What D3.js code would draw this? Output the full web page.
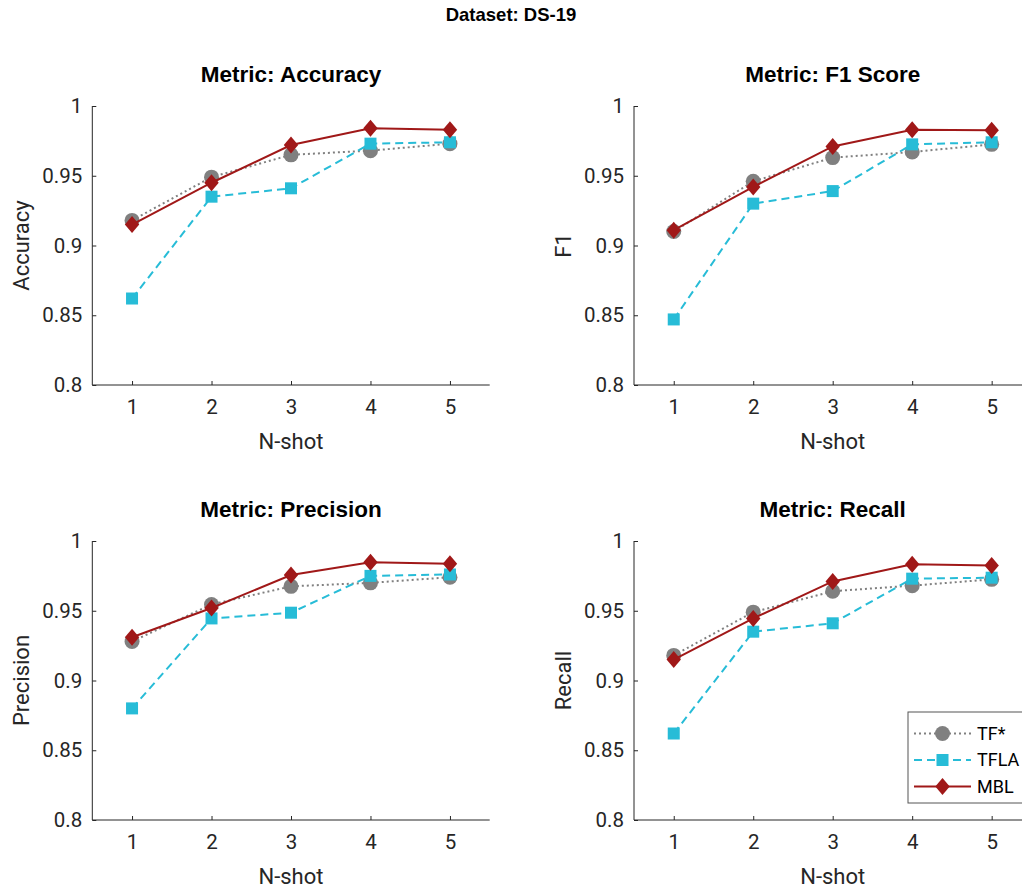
<!DOCTYPE html>
<html>
<head>
<meta charset="utf-8">
<script src="https://cdn.jsdelivr.net/npm/d3@7"></script>
<style>
  body { margin: 0; background: #fff; }
  svg { display: block; }
</style>
</head>
<body>
<div id="chart"></div>
<script>
// N-shot values on the x axis
const nShot = [1, 2, 3, 4, 5];
const yTicks = [0.8, 0.85, 0.9, 0.95, 1];
const yTickLabels = ['0.8', '0.85', '0.9', '0.95', '1'];
const seriesNames = ['TF*', 'TFLA', 'MBL'];

// Accuracy
const accuracyTF = [0.918, 0.949, 0.965, 0.968, 0.973];
const accuracyTFLA = [0.862, 0.935, 0.941, 0.973, 0.974];
const accuracyMBL = [0.915, 0.945, 0.972, 0.984, 0.983];

// F1 score
const f1TF = [0.910, 0.946, 0.963, 0.967, 0.9725];
const f1TFLA = [0.847, 0.930, 0.939, 0.9725, 0.974];
const f1MBL = [0.911, 0.942, 0.971, 0.983, 0.9826];

// Precision
const precisionTF = [0.928, 0.9545, 0.9675, 0.970, 0.974];
const precisionTFLA = [0.880, 0.9445, 0.9486, 0.975, 0.976];
const precisionMBL = [0.931, 0.952, 0.9756, 0.9847, 0.9837];

// Recall
const recallTF = [0.918, 0.949, 0.964, 0.968, 0.9725];
const recallTFLA = [0.862, 0.935, 0.941, 0.973, 0.9737];
const recallMBL = [0.915, 0.9445, 0.971, 0.9833, 0.9825];

const panels = [
  { title: 'Metric: Accuracy', ylabel: 'Accuracy', values: [accuracyTF, accuracyTFLA, accuracyMBL], left: 92.3, top: 106 },
  { title: 'Metric: F1 Score', ylabel: 'F1', values: [f1TF, f1TFLA, f1MBL], left: 634, top: 106 },
  { title: 'Metric: Precision', ylabel: 'Precision', values: [precisionTF, precisionTFLA, precisionMBL], left: 92.3, top: 541 },
  { title: 'Metric: Recall', ylabel: 'Recall', values: [recallTF, recallTFLA, recallMBL], left: 634, top: 541 }
];

const styles = [
  { color: '#808080', dash: '2,3', width: 2, marker: 'circle' },
  { color: '#27bcd7', dash: '8,5', width: 2, marker: 'square' },
  { color: '#a01818', dash: null, width: 2, marker: 'diamond' }
];

const W = 1022, H = 890;
const plotW = 397.4, plotH = 279;
const axisColor = '#262626';
const tickFont = 'Roboto, "Liberation Sans", sans-serif';
const titleFont = '"Liberation Sans", Arial, sans-serif';

const svg = d3.select('#chart').append('svg')
  .attr('width', W)
  .attr('height', H);

svg.append('text')
  .attr('x', W / 2)
  .attr('y', 21)
  .attr('text-anchor', 'middle')
  .style('font-family', titleFont)
  .style('font-weight', 'bold')
  .style('font-size', '18.5px')
  .style('fill', '#000')
  .text('Dataset: DS-19');

const x = d3.scaleLinear().domain([0.5, 5.5]).range([0, plotW]);
const y = d3.scaleLinear().domain([0.8, 1]).range([plotH, 0]);

function drawMarker(g, type, cx, cy, color) {
  if (type === 'circle') {
    g.append('circle').attr('cx', cx).attr('cy', cy).attr('r', 7.5).attr('fill', color);
  } else if (type === 'square') {
    g.append('rect').attr('x', cx - 6).attr('y', cy - 6).attr('width', 12).attr('height', 12).attr('fill', color);
  } else {
    g.append('path')
      .attr('d', `M${cx},${cy - 8.5}L${cx + 7.2},${cy}L${cx},${cy + 8.5}L${cx - 7.2},${cy}Z`)
      .attr('fill', color);
  }
}

panels.forEach(p => {
  const g = svg.append('g').attr('transform', `translate(${p.left},${p.top})`);

  // x axis (ticks point inward)
  const xAxis = g.append('g')
    .attr('transform', `translate(0,${plotH})`)
    .call(d3.axisBottom(x).tickValues(nShot).tickSize(-4).tickPadding(14).tickFormat(d3.format('d')));
  xAxis.select('.domain').attr('d', `M0,0H${plotW}`).attr('stroke', axisColor);
  xAxis.selectAll('.tick line').attr('stroke', axisColor);
  xAxis.selectAll('.tick text')
    .style('font-family', tickFont).style('font-size', '20.5px').attr('fill', axisColor);

  // y axis
  const yAxis = g.append('g')
    .call(d3.axisLeft(y).tickValues(yTicks).tickSize(-4).tickPadding(10)
      .tickFormat((d, i) => yTickLabels[i]));
  yAxis.select('.domain').attr('d', `M0,${plotH}V0`).attr('stroke', axisColor);
  yAxis.selectAll('.tick line').attr('stroke', axisColor);
  yAxis.selectAll('.tick text')
    .style('font-family', tickFont).style('font-size', '20.5px').attr('fill', axisColor);

  g.append('text')
    .attr('x', plotW / 2)
    .attr('y', plotH + 64)
    .attr('text-anchor', 'middle')
    .style('font-family', tickFont)
    .style('font-size', '22px')
    .style('fill', axisColor)
    .text('N-shot');

  g.append('text')
    .attr('transform', `translate(-63,${plotH / 2}) rotate(-90)`)
    .attr('text-anchor', 'middle')
    .style('font-family', tickFont)
    .style('font-size', '22px')
    .style('fill', axisColor)
    .text(p.ylabel);

  g.append('text')
    .attr('x', plotW / 2)
    .attr('y', -24)
    .attr('text-anchor', 'middle')
    .style('font-family', titleFont)
    .style('font-weight', 'bold')
    .style('font-size', '22.5px')
    .style('fill', '#000')
    .text(p.title);

  const line = d3.line().x((d, i) => x(nShot[i])).y(d => y(d));

  p.values.forEach((vals, si) => {
    const s = styles[si];
    const sg = g.append('g');
    sg.append('path')
      .attr('d', line(vals))
      .attr('fill', 'none')
      .attr('stroke', s.color)
      .attr('stroke-width', s.width)
      .attr('stroke-dasharray', s.dash);
    vals.forEach((v, i) => drawMarker(sg, s.marker, x(nShot[i]), y(v), s.color));
  });
});

// legend in the recall panel
const leg = svg.append('g').attr('transform', 'translate(908,712)');
leg.append('rect')
  .attr('width', 140).attr('height', 91)
  .attr('fill', '#fff').attr('stroke', '#555').attr('stroke-width', 1);
seriesNames.forEach((name, i) => {
  const s = styles[i];
  const cy = 21.5 + i * 26.5;
  leg.append('line')
    .attr('x1', 6).attr('x2', 63).attr('y1', cy).attr('y2', cy)
    .attr('stroke', s.color).attr('stroke-width', s.width)
    .attr('stroke-dasharray', s.dash);
  drawMarker(leg, s.marker, 34.5, cy, s.color);
  leg.append('text')
    .attr('x', 69).attr('y', cy).attr('dy', '0.35em')
    .style('font-family', tickFont)
    .style('font-size', '18px')
    .style('fill', '#000')
    .text(name);
});
</script>
</body>
</html>
